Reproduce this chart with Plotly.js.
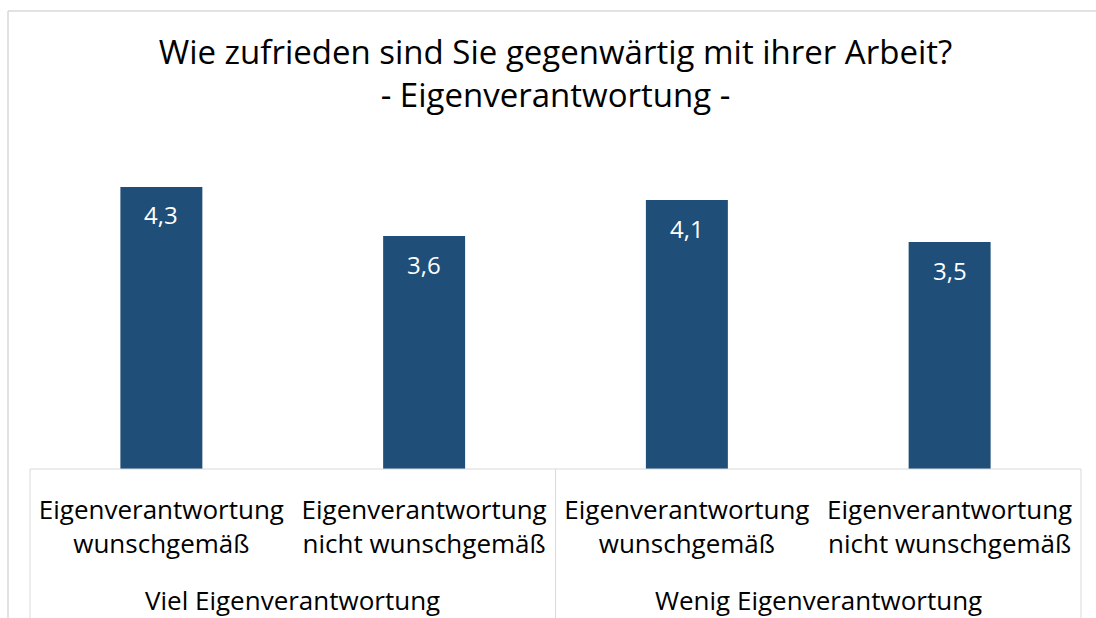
<!DOCTYPE html>
<html><head><meta charset="utf-8">
<script src="https://cdn.plot.ly/plotly-3.0.1.min.js"></script>
<style>html,body{margin:0;padding:0;background:#fff}#chart{width:1096px;height:618px}</style>
</head><body><div id="chart"></div>
<script>
const groups = ["Viel Eigenverantwortung","Viel Eigenverantwortung","Wenig Eigenverantwortung","Wenig Eigenverantwortung"];
const subs = ["Eigenverantwortung<br>wunschgemäß","Eigenverantwortung<br>nicht wunschgemäß","Eigenverantwortung<br>wunschgemäß","Eigenverantwortung<br>nicht wunschgemäß"];
const values = [4.3, 3.55, 4.1, 3.46];
const labels = ["4,3","3,6","4,1","3,5"];
const titleText = "Wie zufrieden sind Sie gegenwärtig mit ihrer Arbeit?<br>- Eigenverantwortung -";

const FONT = "'Open Sans', 'Noto Sans', sans-serif";
const line = "#d9d9d9";
const W = 1096, H = 618, L = 30, R = 15, T = 141, B = 149;
const pw = W - L - R, ph = H - T - B;
const px = x => (x - L) / pw;
const py = y => (H - B - y) / ph;

const idx = values.map((v, i) => i);

// value labels inside bars
const annotations = values.map((v, i) => ({
  x: idx[i], y: v, xref: 'x', yref: 'y', text: labels[i], showarrow: false,
  yshift: -28, font: {family: FONT, size: 24, color: '#ffffff'}
}));

// group labels centred under their categories
const groupNames = [...new Set(groups)];
groupNames.forEach(g => {
  const members = idx.filter(i => groups[i] === g);
  const cx = members.reduce((a, b) => a + b, 0) / members.length;
  annotations.push({
    x: cx, xref: 'x', y: py(600), yref: 'paper', yanchor: 'middle',
    text: g, showarrow: false,
    font: {family: FONT, size: 26, color: '#000000'}
  });
});

const shapes = [
  {type:'line', xref:'paper', yref:'paper', x0:px(8), x1:px(8), y0:py(11), y1:py(H+5), line:{color:line, width:1.5}},
  {type:'line', xref:'paper', yref:'paper', x0:px(8), x1:px(W+5), y0:py(11), y1:py(11), line:{color:line, width:1.5}},
  {type:'line', xref:'paper', yref:'paper', x0:0, x1:0, y0:0, y1:py(H+5), line:{color:line, width:1}},
  {type:'line', xref:'paper', yref:'paper', x0:0.5, x1:0.5, y0:0, y1:py(H+5), line:{color:line, width:1}},
  {type:'line', xref:'paper', yref:'paper', x0:1, x1:1, y0:0, y1:py(H+5), line:{color:line, width:1}},
  {type:'line', xref:'paper', yref:'paper', x0:0, x1:1, y0:0, y1:0, line:{color:line, width:1}}
];

Plotly.newPlot('chart', [{
  type: 'bar',
  x: idx,
  y: values,
  width: 0.312,
  marker: {color: '#1f4e79'},
  hoverinfo: 'skip'
}], {
  width: W, height: H,
  margin: {l: L, r: R, t: T, b: B, pad: 0},
  paper_bgcolor: '#ffffff', plot_bgcolor: '#ffffff',
  font: {family: FONT, color: '#000000'},
  separators: ', ',
  showlegend: false,
  title: {
    text: titleText,
    font: {family: FONT, size: 33, color: '#000000'},
    x: 0.5, xref: 'paper', y: 1 - 64/H, yref: 'container', yanchor: 'middle'
  },
  xaxis: {
    type: 'linear', range: [-0.5, 3.5],
    tickmode: 'array', tickvals: idx, ticktext: subs,
    showline: false, showgrid: false, zeroline: false,
    ticks: '', ticklabelstandoff: 23,
    tickfont: {family: FONT, size: 26, color: '#000000'}
  },
  yaxis: {
    range: [0, 5], visible: false, showgrid: false, zeroline: false
  },
  annotations: annotations,
  shapes: shapes
}, {displayModeBar: false, staticPlot: true});
</script>
</body></html>
